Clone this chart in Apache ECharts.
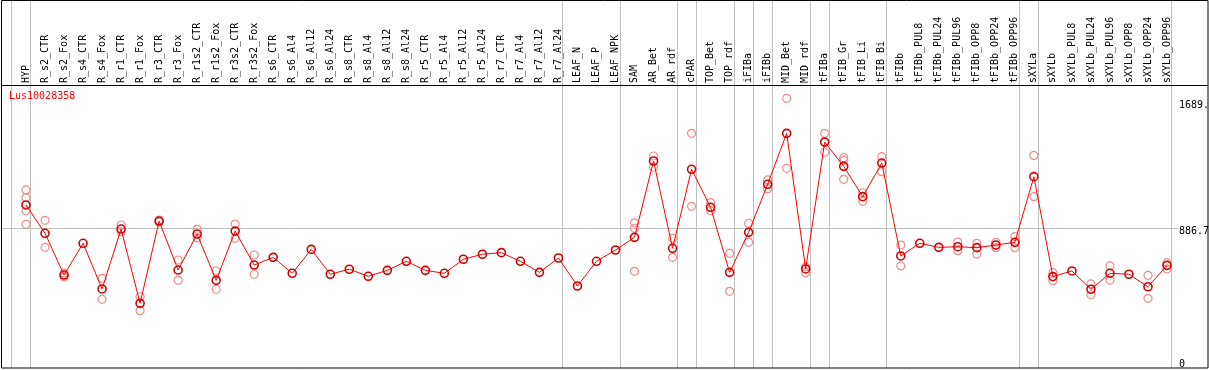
<!DOCTYPE html>
<html>
<head>
<meta charset="utf-8">
<script src="https://cdn.jsdelivr.net/npm/echarts@6/dist/echarts.min.js"></script>
<style>
html,body{margin:0;padding:0;background:#fff;}
#chart{width:1209px;height:370px;}
</style>
</head>
<body>
<div id="chart"></div>
<script>
const geneName = 'Lus10028358';
const categories = ['HYP','R_s2_CTR','R_s2_Fox','R_s4_CTR','R_s4_Fox','R_r1_CTR','R_r1_Fox','R_r3_CTR','R_r3_Fox','R_r1s2_CTR','R_r1s2_Fox','R_r3s2_CTR','R_r3s2_Fox','R_s6_CTR','R_s6_Al4','R_s6_Al12','R_s6_Al24','R_s8_CTR','R_s8_Al4','R_s8_Al12','R_s8_Al24','R_r5_CTR','R_r5_Al4','R_r5_Al12','R_r5_Al24','R_r7_CTR','R_r7_Al4','R_r7_Al12','R_r7_Al24','LEAF_N','LEAF_P','LEAF_NPK','SAM','AR_Bet','AR_rdf','cPAR','TOP_Bet','TOP_rdf','iFIBa','iFIBb','MID_Bet','MID_rdf','tFIBa','tFIB_Gr','tFIB_Li','tFIB_Bi','tFIBb','tFIBb_PUL8','tFIBb_PUL24','tFIBb_PUL96','tFIBb_OPP8','tFIBb_OPP24','tFIBb_OPP96','sXYLa','sXYLb','sXYLb_PUL8','sXYLb_PUL24','sXYLb_PUL96','sXYLb_OPP8','sXYLb_OPP24','sXYLb_OPP96'];
const means = [1036,855,588,791,499,882,407,933,620,850,554,869,652,701,599,752,593,625,580,618,676,618,599,689,721,731,676,605,697,518,676,748,829,1317,759,1264,1021,605,861,1168,1494,627,1438,1283,1089,1304,710,791,765,769,763,780,797,1217,578,614,497,599,593,513,650];
const replicates = [[1132,1082,999,912],[938,765],[600,576],[],[567,433],[908,865],[449,360],[940,926],[684,554],[880,825],[614,497],[914,823],[716,593],[],[],[],[],[],[],[],[],[],[],[],[],[],[],[],[],[],[],[],[922,887,612],[1349,1277],[823,701],[1494,1027],[1051,999],[727,484],[919,797],[1196,1140],[1718,1270],[640,603],[1494,1373],[1338,1321,1200],[1114,1059],[1345,1249],[780,646],[],[],[799,744],[791,722],[797,763],[833,763],[1353,1089],[603,552],[],[531,462],[646,556],[],[586,439],[667,628]];
const separatorAfter = [-1,0,28,31,34,35,37,38,39,41,42,45,52,53,60];
const refLineValues = [886.7];
const yTickValues = [0, 886.7, 1689];
const yTickLabels = ['0', '886.7', '1689.'];
const yMax = 1803;

const MONO = '"DejaVu Sans Mono", "Liberation Mono", monospace';
const repData = [];
replicates.forEach((arr, i) => arr.forEach(v => repData.push([i, v])));

const chart = echarts.init(document.getElementById('chart'), null, {renderer: 'canvas'});
chart.setOption({
  animation: false,
  backgroundColor: '#fff',
  title: {
    text: geneName, left: 9, top: 91, padding: 0,
    textStyle: {color: '#ff0000', fontSize: 10, fontWeight: 'normal', fontFamily: MONO}
  },
  grid: {left: 26, right: 42, top: 85, bottom: 3, containLabel: false},
  xAxis: [{
    type: 'category', data: categories, boundaryGap: false, position: 'top',
    axisLine: {show: false}, axisTick: {show: false}, splitLine: {show: false},
    axisLabel: {rotate: 90, interval: 0, margin: 2, fontSize: 10, fontFamily: MONO, color: '#000'}
  }, {
    type: 'value', min: 0, max: categories.length - 1, show: false
  }],
  yAxis: {type: 'value', min: 0, max: yMax, show: false},
  graphic: [
    {type: 'rect', shape: {x: 1.5, y: 0.5, width: 1206.5, height: 367.5}, style: {fill: 'none', stroke: '#000', lineWidth: 1}, z: 100},
    {type: 'line', shape: {x1: 1, y1: 85.5, x2: 1208, y2: 85.5}, style: {stroke: '#000', lineWidth: 1}, z: 100}
  ],
  series: [
    {
      type: 'custom', name: 'separators', xAxisIndex: 1, silent: true, z: 1,
      data: separatorAfter.map(k => [k, 0]),
      renderItem: (params, api) => {
        const x = Math.round(api.coord([api.value(0), 0])[0] + 4) + 0.5;
        return {type: 'line', shape: {x1: x, y1: 0, x2: x, y2: 368}, style: {stroke: '#c0c0c0', lineWidth: 1}};
      }
    },
    {
      type: 'custom', name: 'refLines', xAxisIndex: 1, silent: true, z: 1,
      data: refLineValues.map(v => [0, v]),
      renderItem: (params, api) => {
        const y = Math.round(api.coord([0, api.value(1)])[1]) + 0.5;
        return {type: 'line', shape: {x1: 1, y1: y, x2: 1178, y2: y}, style: {stroke: '#c0c0c0', lineWidth: 1}};
      }
    },
    {
      type: 'custom', name: 'yLabels', xAxisIndex: 1, silent: true, z: 5,
      data: yTickValues.map(v => [categories.length - 1, v]),
      renderItem: (params, api) => {
        const p = api.coord([api.value(0), api.value(1)]);
        const isMin = api.value(1) === 0;
        return {
          type: 'text',
          style: {
            x: p[0] + 12, y: isMin ? p[1] + 2 : p[1] - 2,
            text: yTickLabels[params.dataIndex],
            fill: '#000', font: '10px ' + MONO,
            verticalAlign: isMin ? 'bottom' : 'top', align: 'left'
          }
        };
      }
    },
    {
      type: 'scatter', name: 'replicates', data: repData, z: 3,
      symbol: 'circle', symbolSize: 8,
      itemStyle: {color: 'rgba(0,0,0,0)', borderColor: '#f08c8c', borderWidth: 1.2, opacity: 1}
    },
    {
      type: 'line', name: 'mean', data: means, z: 4,
      symbol: 'circle', symbolSize: 8, showAllSymbol: true,
      lineStyle: {color: '#ff0000', width: 1},
      itemStyle: {color: 'rgba(0,0,0,0)', borderColor: '#d00000', borderWidth: 1.6}
    }
  ]
});
</script>
</body>
</html>
